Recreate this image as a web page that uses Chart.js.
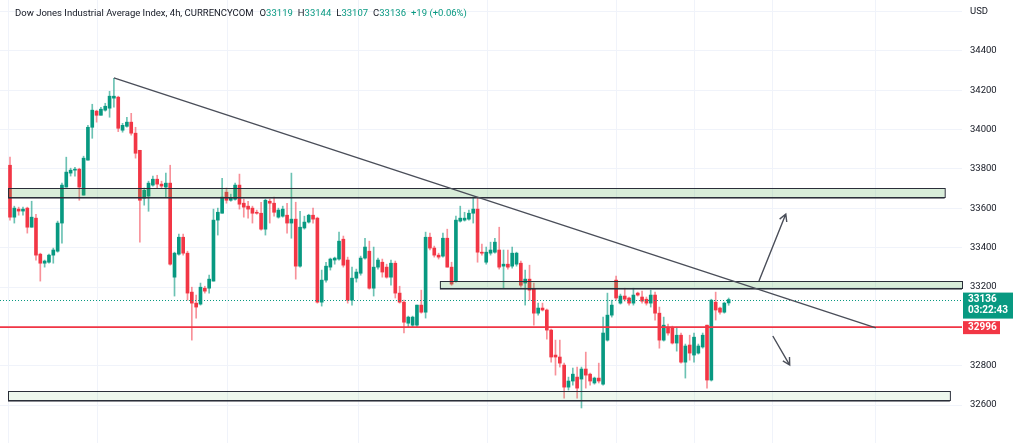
<!DOCTYPE html>
<html>
<head>
<meta charset="utf-8">
<script src="https://cdn.jsdelivr.net/npm/chart.js@4.4.1/dist/chart.umd.min.js"></script>
<style>
  html, body { margin: 0; padding: 0; background: #fff; overflow: hidden; }
  canvas { display: block; }
</style>
</head>
<body>
<canvas id="chart" width="1024" height="443"></canvas>
<script>
// Datos (velas de 4h)
const opens = [
  33819,33555,33596,33586,33601,33504,33550,33367,33321,33326,33362,33382,33525,33708,33779,33794,33799,33667,33845,34012,
  34094,34073,34099,34109,34160,34165,33997,34017,34038,33982,33895,33652,33662,33718,33748,33723,33708,33728,33250,33367,
  33453,33372,33174,33118,33113,33194,33194,33230,33540,33575,33682,33641,33646,33718,33626,33611,33601,33580,33575,33494,
  33636,33626,33555,33560,33565,33525,33545,33306,33500,33530,33565,33550,33123,33235,33301,33337,33342,33443,33337,33133,
  33245,33270,33347,33382,33194,33301,33326,33301,33250,33321,33169,33123,33016,33006,33006,33108,33072,33453,33398,33362,
  33357,33448,33301,33230,33535,33540,33545,33575,33596,33377,33326,33372,33377,33388,33306,33316,33306,33316,33321,33220,
  33240,33189,33067,33093,33083,32981,32854,32844,32803,32691,32722,32742,32732,32783,32757,32712,32737,32706,32930,33057,
  33235,33118,33154,33144,33118,33169,33149,33138,33118,33159,33067,32930,32996,32991,32915,32955,32818,32905,32854,32864,
  32895,33006,32727,33123,33093,33072,33119
];
const highs = [
  33860,33611,33606,33606,33606,33636,33570,33372,33337,33367,33398,33535,33728,33860,33804,33809,33804,33865,34022,34129,
  34099,34114,34134,34195,34261,34170,34032,34063,34083,34012,33895,33703,33738,33764,33768,33738,33779,33819,33377,33469,
  33469,33382,33199,33159,33220,33204,33260,33596,33601,33753,33703,33672,33728,33774,33647,33636,33611,33591,33631,33647,
  33647,33657,33601,33611,33626,33779,33631,33585,33560,33570,33601,33555,33286,33326,33347,33352,33479,33459,33352,33301,
  33291,33357,33448,33433,33403,33347,33342,33316,33337,33332,33204,33133,33052,33052,33108,33184,33479,33474,33408,33372,
  33474,33494,33326,33560,33611,33580,33591,33657,33657,33418,33403,33428,33448,33504,33388,33388,33403,33377,33332,33286,
  33311,33220,33118,33118,33088,32986,32930,32930,32813,32742,32788,32793,32793,32869,32762,32742,32813,33047,33169,33133,
  33255,33164,33194,33149,33194,33174,33179,33149,33184,33174,33098,33047,33011,33001,32996,32966,32910,32955,32966,32910,
  32966,33006,33138,33174,33098,33123,33144
];
const lows = [
  33540,33525,33565,33565,33474,33504,33337,33230,33301,33321,33321,33377,33423,33708,33764,33764,33641,33667,33845,33956,
  34038,34073,34094,34063,34114,33990,33987,34012,33972,33855,33428,33616,33585,33713,33703,33703,33657,33311,33154,33362,
  33362,33133,32930,33042,33108,33169,33169,33230,33464,33575,33626,33636,33641,33596,33555,33550,33525,33570,33489,33464,
  33525,33560,33550,33555,33474,33448,33240,33301,33494,33525,33525,33118,33103,33225,33286,33316,33337,33301,33118,33108,
  33225,33260,33342,33189,33154,33291,33250,33245,33209,33144,33118,32966,32996,32996,32996,33067,33042,33388,33352,33342,
  33352,33301,33209,33225,33530,33535,33540,33525,33326,33362,33316,33362,33372,33291,33194,33291,33296,33306,33199,33108,
  33133,33006,33057,33078,32935,32818,32752,32793,32635,32676,32701,32635,32585,32686,32701,32706,32712,32701,32925,33047,
  33133,33113,33128,33108,33108,33154,33118,33108,33098,33032,32889,32925,32955,32910,32874,32813,32737,32828,32818,32859,
  32889,32686,32722,33032,33062,33067,33107
];
const closes = [
  33555,33601,33586,33596,33504,33555,33362,33321,33332,33362,33388,33525,33718,33784,33794,33799,33708,33855,34012,34099,
  34073,34104,34119,34170,34170,34007,34022,34038,33982,33880,33641,33692,33728,33748,33723,33713,33728,33316,33372,33453,
  33372,33169,33118,33098,33199,33179,33240,33540,33580,33657,33641,33651,33718,33621,33606,33596,33575,33575,33494,33641,
  33626,33580,33591,33596,33525,33545,33306,33504,33530,33565,33545,33123,33235,33306,33342,33347,33433,33311,33133,33245,
  33276,33347,33403,33194,33301,33337,33276,33250,33321,33169,33123,33021,33047,33047,33108,33072,33453,33398,33362,33352,
  33448,33301,33215,33540,33550,33550,33575,33596,33377,33372,33377,33388,33428,33301,33316,33301,33372,33372,33209,33240,
  33184,33067,33093,33083,32981,32844,32844,32813,32691,32722,32757,32686,32783,32752,32722,32737,32722,32966,33057,33108,
  33144,33154,33138,33118,33159,33159,33128,33118,33159,33067,32930,33006,32966,32915,32955,32818,32900,32864,32945,32900,
  32955,32727,33133,33083,33072,33118,33136
];

// Marcas del eje y líneas de fecha (índice de vela)
const yTicks = [32600,32800,33000,33200,33400,33600,33800,34000,34200,34400,34600];
const dayLines = [-0.46, 20.1, 50.3, 80.4, 110.2, 140.2, 158.2, 176.2, 200];

// Dibujos (índice de vela, precio)
const zoneStart  = [-0.46, 99.3, -0.46];
const zoneEnd    = [215.9, 221, 217.1];
const zoneHigh   = [33703, 33230, 32671];
const zoneLow    = [33658, 33194, 32625];
const trendLine  = [[24, 34263], [200, 32992]];
const arrowUp    = [[173.0, 33230], [179.2, 33571]];
const arrowDown  = [[176.2, 32951], [180.1, 32803]];
const supportLevel = 32996;
const countdown = "03:22:43";
const symbolName = "Dow Jones Industrial Average Index, 4h, CURRENCYCOM";
const changeText = "+19 (+0.06%)";

const UP = '#089981', DOWN = '#f23645';
const last = closes.length - 1;
const isUp = i => closes[i] >= opens[i];

const overlay = {
  id: 'overlay',
  afterDatasetsDraw(chart) {
    const { ctx, chartArea: a, scales: { x, y } } = chart;
    const px = v => x.getPixelForValue(v), py = v => y.getPixelForValue(v);
    ctx.save();

    // Zonas
    zoneStart.forEach((s, i) => {
      const x0 = px(s), x1 = Math.min(px(zoneEnd[i]), a.right);
      const y0 = Math.round(py(zoneHigh[i])) + 0.5, y1 = Math.round(py(zoneLow[i])) + 0.5;
      ctx.fillStyle = i === 2 ? 'rgba(76,175,80,0.10)' : 'rgba(76,175,80,0.22)';
      ctx.fillRect(x0, y0, x1 - x0, y1 - y0);
      ctx.strokeStyle = '#2a2e39';
      ctx.lineWidth = 1;
      ctx.strokeRect(x0 + 0.5, y0, x1 - x0, y1 - y0);
      ctx.strokeStyle = 'rgba(42,46,57,0.55)';
      ctx.beginPath(); ctx.moveTo(x0, y1 + 1); ctx.lineTo(x1, y1 + 1); ctx.stroke();
    });

    // Línea de precio actual (punteada)
    const yc = Math.round(py(closes[last])) + 0.5;
    ctx.strokeStyle = UP; ctx.lineWidth = 1; ctx.setLineDash([1, 2]);
    ctx.beginPath(); ctx.moveTo(a.left, yc); ctx.lineTo(a.right, yc); ctx.stroke();
    ctx.setLineDash([]);

    // Nivel rojo
    const ys = py(supportLevel);
    ctx.strokeStyle = DOWN; ctx.lineWidth = 1.6;
    ctx.beginPath(); ctx.moveTo(a.left, ys); ctx.lineTo(a.right, ys); ctx.stroke();

    // Línea de tendencia
    ctx.strokeStyle = '#4a4e59'; ctx.lineWidth = 1.4;
    ctx.beginPath();
    ctx.moveTo(px(trendLine[0][0]), py(trendLine[0][1]));
    ctx.lineTo(px(trendLine[1][0]), py(trendLine[1][1]));
    ctx.stroke();

    // Flechas
    [arrowUp, arrowDown].forEach(ar => {
      const x0 = px(ar[0][0]), y0 = py(ar[0][1]), x1 = px(ar[1][0]), y1 = py(ar[1][1]);
      const ang = Math.atan2(y1 - y0, x1 - x0), L = 8;
      ctx.beginPath();
      ctx.moveTo(x0, y0); ctx.lineTo(x1, y1);
      ctx.moveTo(x1 - L * Math.cos(ang - 0.5), y1 - L * Math.sin(ang - 0.5));
      ctx.lineTo(x1, y1);
      ctx.lineTo(x1 - L * Math.cos(ang + 0.5), y1 - L * Math.sin(ang + 0.5));
      ctx.stroke();
    });
    ctx.restore();
  },
  afterDraw(chart) {
    const { ctx, chartArea: a, scales: { y } } = chart;
    ctx.save();
    // Etiquetas de precio en el eje
    const yc = y.getPixelForValue(closes[last]);
    ctx.fillStyle = UP;
    ctx.fillRect(a.right + 1, yc - 7, 50, 26);
    const ys = y.getPixelForValue(supportLevel);
    ctx.fillStyle = DOWN;
    ctx.fillRect(a.right + 1, ys - 6, 37, 13);
    ctx.fillStyle = '#fff';
    ctx.font = 'bold 10px Roboto';
    ctx.textBaseline = 'middle';
    ctx.fillText(String(closes[last]), a.right + 6, yc);
    ctx.fillText(countdown, a.right + 6, yc + 11);
    ctx.fillText(String(supportLevel), a.right + 6, ys + 0.5);

    // Título
    ctx.font = '9.5px Roboto';
    let tx = 15;
    const ty = 14;
    const put = (t, c, gap) => { ctx.fillStyle = c; ctx.fillText(t, tx, ty); tx += ctx.measureText(t).width + (gap || 0); };
    put(symbolName, '#131722', 6);
    [['O', opens], ['H', highs], ['L', lows], ['C', closes]].forEach(([k, arr]) => {
      put(k, '#131722'); put(String(arr[last]), UP, 5);
    });
    put(changeText, UP);
    ctx.restore();
  }
};

const idx = closes.map((_, i) => i);
new Chart(document.getElementById('chart'), {
  type: 'bar',
  data: {
    datasets: [
      {
        data: idx.map(i => ({ x: i, y: [lows[i], highs[i]] })),
        backgroundColor: c => isUp(c.dataIndex) ? 'rgba(8,153,129,0.6)' : 'rgba(242,54,69,0.55)',
        barThickness: 1, grouped: false, order: 2, borderWidth: 0
      },
      {
        data: idx.map(i => ({ x: i, y: [opens[i], closes[i]] })),
        backgroundColor: c => isUp(c.dataIndex) ? UP : DOWN,
        barThickness: 3, minBarLength: 1, grouped: false, order: 1, borderWidth: 0
      }
    ]
  },
  options: {
    responsive: false,
    animation: false,
    devicePixelRatio: 1,
    layout: { padding: 0 },
    plugins: { legend: { display: false }, tooltip: { enabled: false } },
    scales: {
      x: {
        type: 'linear', min: -2.31, max: 219.9, offset: false,
        grid: { color: '#f0f3fa', drawTicks: false, offset: false },
        border: { display: false },
        ticks: { display: false },
        afterBuildTicks: s => { s.ticks = dayLines.map(v => ({ value: v })); },
        afterFit: s => { s.height = 0; s.paddingLeft = 0; s.paddingRight = 0; }
      },
      y: {
        position: 'right', min: 32407, max: 34659,
        grid: { color: '#f0f3fa', drawTicks: false },
        border: { display: false },
        afterBuildTicks: s => { s.ticks = yTicks.map(v => ({ value: v })); },
        afterFit: s => { s.width = 62; s.paddingTop = 0; s.paddingBottom = 0; },
        ticks: {
          padding: 8, color: '#131722', font: { family: 'Roboto', size: 9.5 },
          callback: v => v === 34600 ? 'USD' : String(v)
        }
      }
    }
  },
  plugins: [overlay]
});
</script>
</body>
</html>
